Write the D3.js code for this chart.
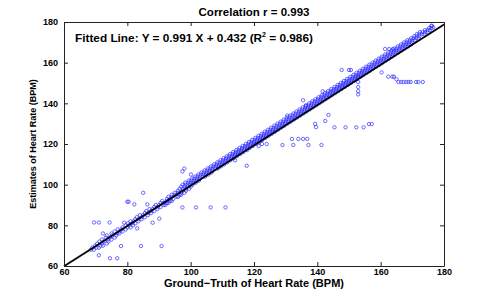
<!DOCTYPE html>
<html>
<head>
<meta charset="utf-8">
<script src="https://cdn.jsdelivr.net/npm/d3@7"></script>
<style>
  body { margin: 0; background: #fff; }
  svg text { font-family: "Liberation Sans", Arial, Helvetica, sans-serif; font-weight: bold; }
</style>
</head>
<body>
<svg id="chart" width="491" height="300"></svg>
<script>
// data: main band, one row per estimate level -> [y, x1, x2, ...]
const bandRows = [
  [68, 68.5, 69.4], [69, 69, 70.2, 71], [70, 69.8, 71.5, 72.3], [71, 70.5, 72, 73.5],
  [72, 71.2, 72.5, 74], [73, 72, 73.8, 75], [74, 73.2, 74.5, 76], [75, 73.5, 75.2, 76.5],
  [76, 72.3, 75, 76.8, 77.5], [77, 76, 77.5, 78.5], [78, 77, 78.2, 79.5], [79, 78.5, 80, 81],
  [80, 79.5, 80.5, 81.8], [81, 80.2, 81.5, 82.5], [82, 81, 82, 83.5], [83, 82.5, 83.5, 84.5],
  [84, 83, 84.5, 85.5], [85, 84, 85, 86.5], [86, 85.5, 86.5, 87.5], [87, 86, 87.5, 88.5],
  [88, 87, 88, 89.5], [89, 88.5, 89.5, 90.5], [90, 89, 90, 91.5, 92], [91, 90.5, 91.5, 92.5, 93],
  [92, 91, 92.5, 93.5, 94], [93, 92.5, 93.5, 94.5], [94, 93, 94, 95.5, 96], [95, 94, 95, 96.5, 97],
  [96, 95, 96, 97, 98], [97, 96, 97.5, 98.5], [98, 96.5, 97.5, 98.5, 99.5], [99, 97, 98, 99, 100],
  [100, 97.5, 98.3, 99, 99.8, 100.6], [101, 98.3, 99.2, 100, 100.8, 101.6],
  [102, 99.4, 100.2, 101, 101.8, 102.6], [103, 100.4, 101.2, 102, 102.8],
  [104, 101.4, 102.2, 103, 103.8, 104.6], [105, 102.4, 103.2, 104, 104.8, 105.6],
  [106, 103.4, 104.2, 105, 105.8, 106.6], [107, 104.4, 105.2, 106, 106.8],
  [108, 105.4, 106.2, 107, 107.8, 108.6], [109, 106.4, 107.2, 108, 108.8, 109.6],
  [110, 107.4, 108.2, 109, 109.8, 110.6], [111, 108.4, 109.2, 110, 110.8, 111.6],
  [112, 109.4, 110.2, 111, 111.8, 112.6, 114], [113, 110.4, 111.2, 112, 112.8, 113.6],
  [114, 111.4, 112.2, 113, 113.8, 114.6], [115, 112.4, 113.2, 114, 114.8, 115.6],
  [116, 113.4, 114.2, 115, 115.8, 116.6], [117, 114.4, 115.2, 116, 116.8, 117.8],
  [118, 115.4, 116.2, 117, 117.8, 118.6], [119, 116.4, 117.2, 118, 118.8, 119.6, 121.5],
  [120, 117.4, 118.2, 119, 119.8, 120.6, 122.5, 124], [121, 118.4, 119.2, 120, 120.8, 121.6],
  [122, 119.4, 120.2, 121, 121.8, 122.6], [123, 120.4, 121.2, 122, 122.8, 123.6],
  [124, 121.4, 122.2, 123, 123.8, 124.6], [125, 122.4, 123.2, 124, 124.8, 125.6],
  [126, 123.4, 124.2, 125, 125.8, 126.6], [127, 124.4, 125.2, 126, 126.8, 127.6],
  [128, 125.4, 126.2, 127, 127.8, 128.6], [129, 126.4, 127.2, 128, 128.8, 129.6],
  [130, 127.4, 128.2, 129, 129.8, 130.6], [131, 128.4, 129.2, 130, 130.8, 131.6],
  [132, 129.4, 130.2, 131, 131.8, 132.6], [133, 130.4, 131.2, 132, 132.8, 133.6],
  [134, 130.5, 131.4, 132.2, 133, 133.8, 134.6], [135, 132.4, 133.2, 134, 134.8, 135.6],
  [136, 133.4, 134.2, 135, 135.8, 136.6], [137, 134.4, 135.2, 136, 136.8, 137.6],
  [138, 135.4, 136.2, 137, 137.8, 138.6], [139, 136.4, 137.2, 138, 138.8, 139.6],
  [140, 137.4, 138.2, 139, 139.8, 140.6], [141, 138.4, 139.2, 140, 140.8, 141.6],
  [142, 139.4, 140.2, 141, 141.8, 142.6], [143, 140.4, 141.2, 142, 142.8, 143.6],
  [144, 141.4, 142.2, 143, 143.8, 144.6], [145, 142.4, 143.2, 144, 144.8, 145.6],
  [146, 143.4, 144.2, 145, 145.8, 146.6], [147, 144.4, 145.2, 146, 146.8, 147.6],
  [148, 145.4, 146.2, 147, 147.8, 148.6], [149, 146.4, 147.2, 148, 148.8, 149.6],
  [150, 147.4, 148.2, 149, 149.8, 150.6], [151, 148.4, 149.2, 150, 150.8, 151.6],
  [152, 149.4, 150.2, 151, 151.8, 152.6], [153, 150.4, 151.2, 152, 152.8, 153.6],
  [154, 151.4, 152.2, 153, 153.8, 154.6], [155, 152.4, 153.2, 154, 154.8, 155.6],
  [156, 153.4, 154.2, 155, 155.8, 156.6], [157, 154.4, 155.2, 156, 156.8, 157.6],
  [158, 155.4, 156.2, 157, 157.8, 158.6], [159, 156.4, 157.2, 158, 158.8, 159.6],
  [160, 157.4, 158.2, 159, 159.8, 160.6], [161, 158.4, 159.2, 160, 160.8, 161.6],
  [162, 159.4, 160.2, 161, 161.8, 162.6], [163, 160.4, 161.2, 162, 162.8, 163.6],
  [164, 161.4, 162.2, 163, 163.8, 164.6], [165, 162.4, 163.2, 164, 164.8, 165.6],
  [166, 163.4, 164.2, 165, 165.8, 166.6], [167, 164.4, 165.2, 166, 166.8, 167.6],
  [168, 165.4, 166.2, 167, 167.8, 168.6], [169, 166.4, 167.2, 168, 168.8, 169.6],
  [170, 167.4, 168.2, 169, 169.8], [171, 168.4, 169.2, 170, 170.8],
  [172, 169.6, 170.4, 171.2, 172], [173, 170.6, 171.4, 172.2], [174, 171.4, 172.2, 173, 173.8],
  [175, 172.4, 173.2, 174, 174.8], [176, 174, 174.8, 175.5], [177, 175.3, 176], [178, 176.1]
];

// scattered estimates away from the band -> [x, y]
const outliers = [
  [69.5, 81.4], [71, 81.4], [74.4, 81.4], [71, 65.3], [74.5, 63.8], [76.8, 63.8],
  [78, 69.8], [84.3, 69.8], [90.8, 69.8], [80, 91.6], [80.4, 91.6], [85, 96],
  [82.2, 90.3], [86.3, 90.3], [79, 81.3], [83.1, 78.5], [88, 81.3], [90.1, 83.3],
  [98, 107.9], [97.4, 106.5], [100.1, 105], [97.4, 88.8], [101.7, 88.8], [106.3, 88.8],
  [111, 88.8], [117.7, 109.3], [129, 119.5], [132.4, 119.5], [137.2, 119.5], [141.3, 119.5],
  [132, 122.5], [134, 122.5], [135.5, 122.5], [136.8, 122.5], [139.3, 129.9], [139.6, 128.3],
  [142.5, 131.3], [143.5, 134.3], [145.4, 128.2], [148.9, 128.2], [152.3, 128.2], [154.6, 128.2],
  [156.3, 129.8], [157.2, 129.8], [135.5, 141.5], [136.4, 138.8], [141.7, 145.9],
  [147.7, 156.4], [150, 156.4], [150.6, 156.4], [152.9, 153], [152.9, 150.5], [152.9, 148],
  [152.9, 146], [152.9, 144.4], [160.3, 155.2], [161.4, 166.7], [162.7, 166.7], [163.9, 166.7],
  [162.4, 153.1], [163.7, 153.1], [164.2, 153.1], [165, 151.8], [165.6, 150.5], [166.5, 150.5],
  [167.2, 150.5], [168.1, 150.5], [168.8, 150.5], [169.5, 150.5], [171.2, 150.5], [171.9, 150.5],
  [173.3, 150.5], [176.1, 178.2], [176.6, 177.4]
];

const fitSlope = 0.991;
const fitIntercept = 0.432;
const axisTicks = [60, 80, 100, 120, 140, 160, 180];

// layout
const margin = { top: 22, right: 47, bottom: 34, left: 64 };
const svg = d3.select("#chart");
const W = +svg.attr("width") - margin.left - margin.right;
const H = +svg.attr("height") - margin.top - margin.bottom;
const g = svg.append("g").attr("transform", `translate(${margin.left},${margin.top})`);

const x = d3.scaleLinear().domain([60, 180]).range([0, W]);
const y = d3.scaleLinear().domain([60, 180]).range([H, 0]);

const points = [];
bandRows.forEach(row => {
  row.slice(1).forEach(v => points.push([v, row[0]]));
});
outliers.forEach(p => points.push(p));

// markers
g.selectAll(".pt")
  .data(points)
  .enter()
  .append("circle")
  .attr("class", "pt")
  .attr("cx", d => x(d[0]))
  .attr("cy", d => y(d[1]))
  .attr("r", 1.7)
  .attr("fill", "none")
  .attr("stroke", "#2a2aff")
  .attr("stroke-opacity", 0.85)
  .attr("stroke-width", 0.8);

// fitted line
g.append("line")
  .attr("x1", x(60)).attr("y1", y(fitSlope * 60 + fitIntercept))
  .attr("x2", x(180)).attr("y2", y(fitSlope * 180 + fitIntercept))
  .attr("stroke", "#000")
  .attr("stroke-width", 1.8);

// axes, ticks pointing inward on all four sides
function styleAxis(sel) {
  sel.selectAll("path").attr("stroke", "#222");
  sel.selectAll("line").attr("stroke", "#222");
  sel.selectAll("text").attr("font-size", "9px").attr("fill", "#000")
    .attr("font-family", '"Liberation Sans", Arial, sans-serif').attr("font-weight", "bold");
}
g.append("g").attr("transform", `translate(0,${H})`)
  .call(d3.axisBottom(x).tickValues(axisTicks).tickSizeInner(-4).tickSizeOuter(0).tickPadding(3))
  .call(styleAxis);
g.append("g")
  .call(d3.axisLeft(y).tickValues(axisTicks).tickSizeInner(-4).tickSizeOuter(0).tickPadding(6))
  .call(styleAxis);
g.append("g")
  .call(d3.axisTop(x).tickValues(axisTicks).tickSizeInner(-4).tickSizeOuter(0).tickFormat(""))
  .call(styleAxis);
g.append("g").attr("transform", `translate(${W},0)`)
  .call(d3.axisRight(y).tickValues(axisTicks).tickSizeInner(-4).tickSizeOuter(0).tickFormat(""))
  .call(styleAxis);

// texts
svg.append("text")
  .attr("x", margin.left + W / 2).attr("y", 16)
  .attr("text-anchor", "middle").attr("font-size", "11.5px")
  .text("Correlation r = 0.993");

const ann = svg.append("text")
  .attr("x", 75).attr("y", 42).attr("font-size", "11.8px");
ann.append("tspan").text("Fitted Line: Y = 0.991 X + 0.432 (R");
ann.append("tspan").attr("font-size", "7px").attr("dy", -5).text("2");
ann.append("tspan").attr("dy", 5).text(" = 0.986)");

svg.append("text")
  .attr("x", margin.left + W / 2).attr("y", 287)
  .attr("text-anchor", "middle").attr("font-size", "11px")
  .text("Ground\u2212Truth of Heart Rate (BPM)");

svg.append("text")
  .attr("transform", `translate(36,${margin.top + H / 2}) rotate(-90)`)
  .attr("text-anchor", "middle").attr("font-size", "9px")
  .text("Estimates of Heart Rate (BPM)");
</script>
</body>
</html>
